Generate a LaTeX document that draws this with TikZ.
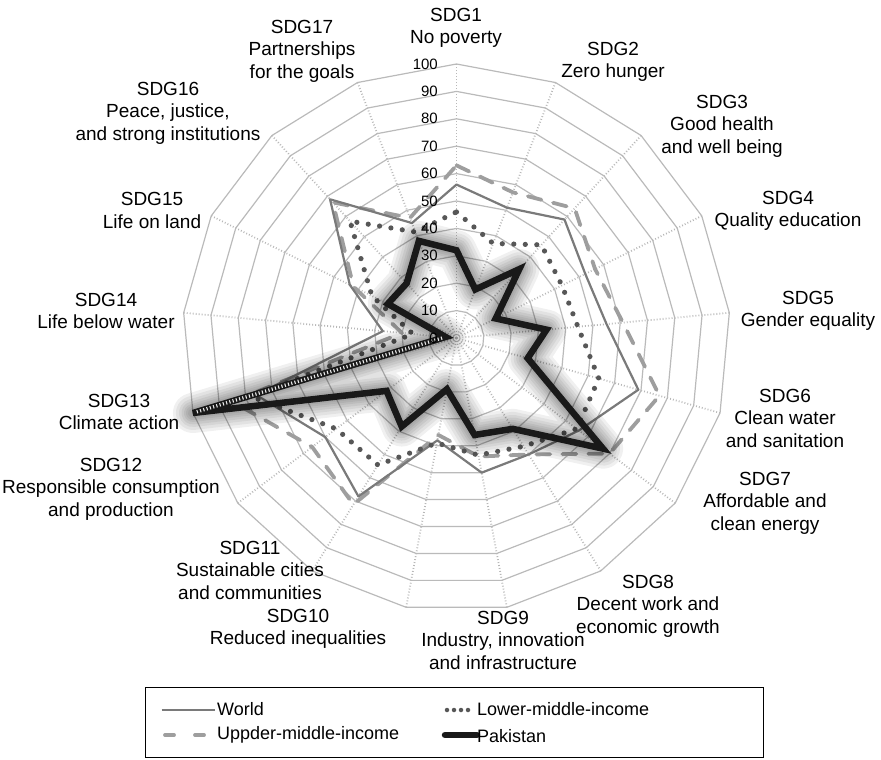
\documentclass[tikz,border=0pt]{standalone}
\usepackage{fontspec}
\setmainfont{Liberation Sans}
\begin{document}
\begin{tikzpicture}[x=1pt,y=1pt,
  ring/.style={draw=black!27, line width=1.2pt},
  radial/.style={draw=black!28, line width=1.8pt, dash pattern=on 0.9pt off 2.1pt},
  world/.style={draw=black!52, line width=2.2pt, line join=round},
  umid/.style={draw=black!38, line width=3.8pt, dash pattern=on 14pt off 12pt, line cap=round, line join=round},
  lmid/.style={draw=black!66, line width=5.2pt, dash pattern=on 0pt off 11.5pt, line cap=round},
  pak/.style={draw=black!90, line width=6.5pt, line join=miter},
  ladder/.style={draw=white, line width=3.4pt, dash pattern=on 1.1pt off 2.3pt, opacity=0.9},
  glow/.style={draw=black, line join=round, line cap=round, opacity=0.06},
  lbl/.style={font=\fontsize{19}{22.5}\selectfont, align=center, inner sep=0pt},
  scl/.style={font=\fontsize{15}{16}\selectfont, anchor=east, inner sep=0pt},
  leg/.style={font=\fontsize{18}{20}\selectfont, anchor=west, inner sep=0pt}]
\useasboundingbox (0,0) rectangle (881,-760);
\coordinate (O) at (456.5,-338);
\begin{scope}[shift={(O)}]
% rings
\foreach \r in {1,...,10}
  \draw[ring] (90:\r*27.4) \foreach \k in {1,...,16}{ -- ({90-\k*360/17}:\r*27.4)} -- cycle;
% radial axes
\foreach \k in {0,...,16}{
  \coordinate (A\k) at ({90-\k*360/17}:274);
  \draw[radial] (0,0) -- (A\k);
}
% data
\foreach \v [count=\i from 0] in {56,51,58.5,52.5,55,69,56,50,50,38,68,60,76,27,43.5,68.5,45}
  \coordinate (W\i) at ({90-\i*360/17}:{\v*2.74});
\foreach \v [count=\i from 0] in {63,57,64,56.5,61,77,70,50,44,36,71.5,66,85,20,42,67,47}
  \coordinate (U\i) at ({90-\i*360/17}:{\v*2.74});
\foreach \v [count=\i from 0] in {46,37,46,43,44.5,54,55,46.5,43.5,39,54.5,55,78,16,34.5,57.7,41.5}
  \coordinate (L\i) at ({90-\i*360/17}:{\v*2.74});
\foreach \v [count=\i from 0] in {32,19,34,16,33,27,67,39,36,19,38,32,100,4,28,27,38}
  \coordinate (P\i) at ({90-\i*360/17}:{\v*2.74});
\draw[umid] (U0) \foreach \k in {1,...,16}{ -- (U\k)} -- cycle;
\draw[world] (W0) \foreach \k in {1,...,16}{ -- (W\k)} -- cycle;
\draw[lmid] (L0) \foreach \k in {1,...,16}{ -- (L\k)} -- cycle;
% glow around Pakistan
\foreach \w in {40,34,28,23,18,14,10}
  \draw[glow, line width=\w pt] (P0) \foreach \k in {1,...,16}{ -- (P\k)} -- cycle;
\draw[pak] (P0) \foreach \k in {1,...,16}{ -- (P\k)} -- cycle;
\draw[ladder, shorten <=4pt, shorten >=3pt] (P12) -- (P13);
\end{scope}
% scale
\foreach \v in {0,10,...,100}
  \node[scl] (s\v) at (438,{-338+\v*2.74}) {\v};
% labels
\node[lbl] (l1) at (456,-28) {SDG1\\No poverty};
\node[lbl] (l2) at (613,-62) {SDG2\\Zero hunger};
\node[lbl] (l3) at (722,-126) {SDG3\\Good health\\and well being};
\node[lbl] (l4) at (788,-211) {SDG4\\Quality education};
\node[lbl] (l5) at (808,-311) {SDG5\\Gender equality};
\node[lbl] (l6) at (785,-418) {SDG6\\Clean water\\and sanitation};
\node[lbl] (l7) at (765,-503) {SDG7\\Affordable and\\clean energy};
\node[lbl] (l8) at (648,-606) {SDG8\\Decent work and\\economic growth};
\node[lbl] (l9) at (503,-640) {SDG9\\Industry, innovation\\and infrastructure};
\node[lbl] (l10) at (298,-629) {SDG10\\Reduced inequalities};
\node[lbl] (l11) at (250,-570) {SDG11\\Sustainable cities\\and communities};
\node[lbl] (l12) at (111,-489) {SDG12\\Responsible consumption\\and production};
\node[lbl] (l13) at (119,-412) {SDG13\\Climate action};
\node[lbl] (l14) at (106,-311) {SDG14\\Life below water};
\node[lbl] (l15) at (152,-210.5) {SDG15\\Life on land};
\node[lbl] (l16) at (168,-113) {SDG16\\Peace, justice,\\and strong institutions};
\node[lbl] (l17) at (302,-51) {SDG17\\Partnerships\\for the goals};
% legend
\node[draw=black, line width=0.9pt, minimum width=618pt, minimum height=70pt, anchor=north west, inner sep=0pt] (box) at (145,-687) {};
\coordinate (wa) at (161.7,-710); \coordinate (wb) at (215,-710);
\coordinate (ua) at (165,-735); \coordinate (ub) at (212,-735);
\coordinate (la) at (447,-710); \coordinate (lb) at (475,-710);
\coordinate (pa) at (445,-735); \coordinate (pb) at (477,-735);
\draw[world] (wa) -- (wb);
\draw[umid, dash pattern=on 9pt off 21pt] (ua) -- (ub);
\draw[lmid, line width=4.5pt, dash pattern=on 0pt off 7pt] (la) -- (lb);
\draw[pak, line cap=round] (pa) -- (pb);
\node[leg] (tw) at (217,-709) {World};
\node[leg] (tu) at (217,-735) {Uppder-middle-income};
\node[leg] (tl) at (477,-709) {Lower-middle-income};
\node[leg] (tp) at (477,-736) {Pakistan};
\end{tikzpicture}
\end{document}
